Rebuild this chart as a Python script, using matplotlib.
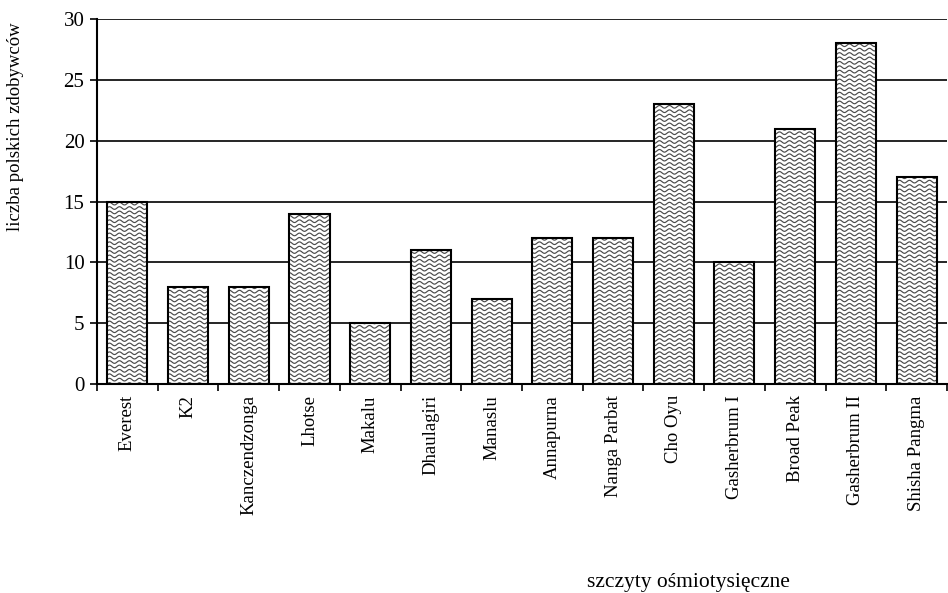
import numpy as np
import matplotlib
matplotlib.use("Agg")
from matplotlib import pyplot as plt
from matplotlib.collections import LineCollection

peaks = ["Everest", "K2", "Kanczendzonga", "Lhotse", "Makalu", "Dhaulagiri",
         "Manaslu", "Annapurna", "Nanga Parbat", "Cho Oyu", "Gasherbrum I",
         "Broad Peak", "Gasherbrum II", "Shisha Pangma"]
climbers = [15, 8, 8, 14, 5, 11, 7, 12, 12, 23, 10, 21, 28, 17]
y_ticks = [0, 5, 10, 15, 20, 25, 30]


def wave_fill(ax, bar, w_px, h_px):
    # wavy texture, drawn in axes coords and clipped to the bar
    step = 4.4 / h_px
    xs = np.linspace(0, 1, 3000)
    segs = []
    for y0 in np.arange(0, 1 + step, step):
        ys = y0 + 1.3 / h_px * np.sin(2 * np.pi * xs * w_px / 10.0)
        segs.append(np.column_stack([xs, ys]))
    lc = LineCollection(segs, colors="#4a4a4a", linewidths=0.85,
                        transform=ax.transAxes, zorder=3)
    ax.add_collection(lc)
    # set after add_collection, otherwise the axes patch replaces it
    lc.set_clip_path(bar.get_path(), bar.get_transform())


def main():
    plt.rcParams["font.family"] = ["Liberation Serif", "DejaVu Serif"]
    fig = plt.figure(figsize=(9.48, 5.93), dpi=100)
    ax = fig.add_axes([0.1023, 0.3524, 0.8966, 0.6155])

    x = np.arange(len(peaks))
    bars = ax.bar(x, climbers, width=0.66, color="white", edgecolor="black",
                  linewidth=1.5, zorder=4)
    for b in bars:
        b.set_facecolor("none")

    ax.set_xlim(-0.5, len(peaks) - 0.5)
    ax.set_ylim(0, 30)
    ax.set_yticks(y_ticks)
    ax.tick_params(axis="y", labelsize=15, direction="out", length=5,
                   width=1.2, pad=4)
    ax.set_xticks(x)
    ax.set_xticklabels(peaks, rotation=90, fontsize=13.5)
    ax.set_xticks(np.arange(-0.5, len(peaks), 1), minor=True)
    ax.tick_params(axis="x", which="major", length=0, pad=8)
    ax.tick_params(axis="x", which="minor", direction="out", length=5, width=1.2)
    ax.yaxis.grid(True, color="black", linewidth=1.2, zorder=1)
    ax.set_axisbelow(True)
    for s in ["top", "right"]:
        ax.spines[s].set_visible(False)
    ax.spines["left"].set_linewidth(1.5)
    ax.spines["bottom"].set_linewidth(1.5)

    fig.canvas.draw()
    bb = ax.get_window_extent()
    for b in bars:
        # white backing so the grid does not show through the bar
        ax.bar(b.get_x() + b.get_width() / 2, b.get_height(), width=b.get_width(),
               color="white", linewidth=0, zorder=2)
        wave_fill(ax, b, bb.width, bb.height)

    fig.text(0.016, 0.787, "liczba polskich zdobywców", fontsize=13.5,
             rotation=90, ha="center", va="center")
    fig.text(0.726, 0.017, "szczyty ośmiotysięczne", fontsize=15.5,
             ha="center", va="center")

    fig.savefig("out.png", dpi=100)


if __name__ == "__main__":
    main()
